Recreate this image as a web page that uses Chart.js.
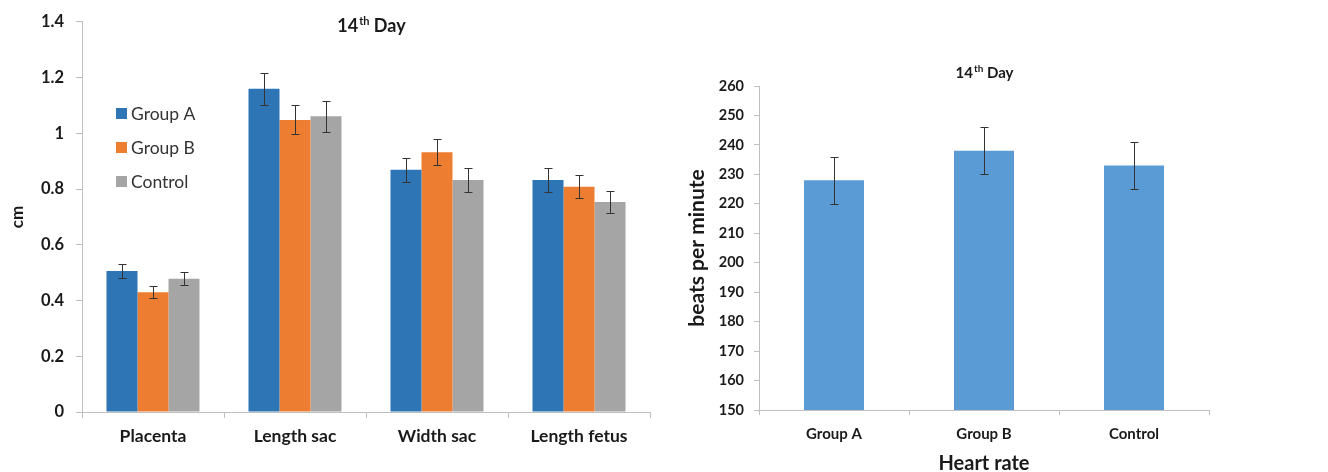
<!DOCTYPE html>
<html><head><meta charset="utf-8">
<script src="https://cdn.jsdelivr.net/npm/chart.js@4.4.1/dist/chart.umd.min.js"></script>
<style>
html,body{margin:0;padding:0;background:#fff;width:1328px;height:472px;overflow:hidden}
#c1{position:absolute;left:0;top:0}
#c2{position:absolute;left:660px;top:0}
</style></head><body>
<canvas id="c1" width="660" height="472"></canvas>
<canvas id="c2" width="668" height="472"></canvas>
<script>
// ---------- data: left chart (sizes, cm) ----------
const sizeCategories = ['Placenta', 'Length sac', 'Width sac', 'Length fetus'];
const seriesNames = ['Group A', 'Group B', 'Control'];
const groupAValues = [0.506, 1.160, 0.869, 0.833];
const groupAErrors = [0.026, 0.058, 0.044, 0.042];
const groupBValues = [0.430, 1.048, 0.932, 0.808];
const groupBErrors = [0.022, 0.052, 0.047, 0.041];
const controlValues = [0.478, 1.061, 0.833, 0.754];
const controlErrors = [0.024, 0.056, 0.042, 0.039];
const sizeTickMin = 0, sizeTickMax = 1.4, sizeTickStep = 0.2;

// ---------- data: right chart (heart rate) ----------
const heartCategories = ['Group A', 'Group B', 'Control'];
const heartValues = [228, 238, 233];
const heartErrors = [8, 8, 8];
const heartTickMin = 150, heartTickMax = 260, heartTickStep = 10;

const titleMain = '14', titleSup = 'th', titleRest = ' Day';

const TXT = '#1a1a1a', AXIS = '#BFBFBF';
const LATO = "Lato, 'DejaVu Sans', sans-serif";

const errorBars = {
  id: 'errorBars',
  afterDatasetsDraw(chart, args, opts) {
    const ctx = chart.ctx, ys = chart.scales.y;
    chart.data.datasets.forEach((ds, i) => {
      const meta = chart.getDatasetMeta(i);
      meta.data.forEach((bar, j) => {
        const v = ds.data[j], e = ds.errors[j];
        const yt = Math.round(ys.getPixelForValue(v + e)) + 0.5;
        const yb = Math.round(ys.getPixelForValue(v - e)) + 0.5;
        const x = Math.round(bar.x) + 0.5, w = opts.cap;
        ctx.save();
        ctx.strokeStyle = opts.color; ctx.lineWidth = 1;
        ctx.beginPath();
        ctx.moveTo(x, yt); ctx.lineTo(x, yb);
        ctx.moveTo(x - w, yt); ctx.lineTo(x + w, yt);
        ctx.moveTo(x - w, yb); ctx.lineTo(x + w, yb);
        ctx.stroke();
        ctx.restore();
      });
    });
  }
};

const supTitle = {
  id: 'supTitle',
  afterDraw(chart, args, o) {
    const ctx = chart.ctx, a = chart.chartArea;
    ctx.save();
    ctx.fillStyle = TXT; ctx.textBaseline = 'alphabetic';
    const big = 'bold ' + o.size + 'px ' + o.family;
    const small = 'bold ' + o.supSize + 'px ' + o.family;
    ctx.font = big; const w1 = ctx.measureText(titleMain).width; const w3 = ctx.measureText(titleRest).width;
    ctx.font = small; const w2 = ctx.measureText(titleSup).width;
    let x = (a.left + a.right) / 2 + o.dx - (w1 + w2 + w3) / 2;
    ctx.font = big; ctx.fillText(titleMain, x, o.y); x += w1;
    ctx.font = small; ctx.fillText(titleSup, x + 1, o.y - o.raise); x += w2 + 1;
    ctx.font = big; ctx.fillText(titleRest, x, o.y);
    ctx.restore();
  }
};

const innerLegend = {
  id: 'innerLegend',
  afterDraw(chart, args, o) {
    const ctx = chart.ctx;
    ctx.save();
    ctx.font = o.size + 'px ' + LATO;
    ctx.textBaseline = 'middle';
    chart.data.datasets.forEach((ds, i) => {
      const cy = o.y + i * o.gap;
      ctx.fillStyle = ds.backgroundColor;
      ctx.fillRect(o.x, cy - 5, 11, 11);
      ctx.fillStyle = '#333';
      ctx.fillText(ds.label, o.x + 15, cy + 1);
    });
    ctx.restore();
  }
};

// ---------- left chart ----------
new Chart(document.getElementById('c1'), {
  type: 'bar',
  data: {
    labels: sizeCategories,
    datasets: [
      { label: seriesNames[0], data: groupAValues, errors: groupAErrors, backgroundColor: '#2E75B6' },
      { label: seriesNames[1], data: groupBValues, errors: groupBErrors, backgroundColor: '#ED7D31' },
      { label: seriesNames[2], data: controlValues, errors: controlErrors, backgroundColor: '#A5A5A5' }
    ]
  },
  options: {
    responsive: false, animation: false,
    layout: { padding: { top: 21, right: 10, left: 0, bottom: 0 } },
    datasets: { bar: { categoryPercentage: 0.655, barPercentage: 1.0 } },
    plugins: {
      legend: { display: false }, tooltip: { enabled: false },
      errorBars: { cap: 4, color: '#333' },
      supTitle: { size: 18, supSize: 11, family: LATO, y: 32, raise: 7, dx: 5 },
      innerLegend: { x: 116, y: 113, gap: 34, size: 17.5 }
    },
    scales: {
      x: {
        grid: { display: true, drawOnChartArea: false, tickLength: 6, color: AXIS, offset: true },
        border: { color: AXIS },
        ticks: { color: TXT, font: { family: LATO, size: 17.5, weight: 'bold' }, padding: 8, maxRotation: 0 },
        afterFit(s) { s.height = 60; }
      },
      y: {
        min: sizeTickMin, max: sizeTickMax,
        grid: { display: true, drawOnChartArea: false, tickLength: 6, color: AXIS },
        border: { color: AXIS },
        ticks: { stepSize: sizeTickStep, color: TXT, font: { family: LATO, size: 16.5, weight: 'bold' }, padding: 12,
                 callback: v => String(+Number(v).toFixed(1)) },
        title: { display: true, text: 'cm', color: TXT, font: { family: LATO, size: 17, weight: 'bold' }, padding: { top: 7, bottom: 0 } },
        afterFit(s) { s.width = 82; }
      }
    }
  },
  plugins: [errorBars, supTitle, innerLegend]
});

// ---------- right chart ----------
new Chart(document.getElementById('c2'), {
  type: 'bar',
  data: {
    labels: heartCategories,
    datasets: [
      { label: 'Heart rate', data: heartValues, errors: heartErrors, backgroundColor: '#5B9BD5' }
    ]
  },
  options: {
    responsive: false, animation: false,
    layout: { padding: { top: 86, right: 119, left: 0, bottom: 0 } },
    datasets: { bar: { categoryPercentage: 0.4, barPercentage: 1.0 } },
    plugins: {
      legend: { display: false }, tooltip: { enabled: false },
      errorBars: { cap: 4, color: '#333' },
      supTitle: { size: 15, supSize: 10, family: LATO, y: 78, raise: 6, dx: 0 }
    },
    scales: {
      x: {
        grid: { display: true, drawOnChartArea: false, tickLength: 5, color: AXIS, offset: true },
        border: { color: AXIS },
        ticks: { color: TXT, font: { family: LATO, size: 15, weight: 'bold' }, padding: 10, maxRotation: 0 },
        title: { display: true, text: 'Heart rate', color: TXT, font: { family: LATO, size: 20, weight: 'bold', lineHeight: 1 }, padding: { top: 0, bottom: -2 } },
        afterFit(s) { s.height = 62; }
      },
      y: {
        min: heartTickMin, max: heartTickMax,
        grid: { display: true, drawOnChartArea: false, tickLength: 5, color: AXIS },
        border: { color: AXIS },
        ticks: { stepSize: heartTickStep, color: TXT, font: { family: LATO, size: 14.5, weight: 'bold' }, padding: 10 },
        title: { display: true, text: 'beats per minute', color: TXT, font: { family: LATO, size: 21, weight: 'bold' }, padding: { top: 25, bottom: 0 } },
        afterFit(s) { s.width = 99; }
      }
    }
  },
  plugins: [errorBars, supTitle]
});
</script>
</body></html>
